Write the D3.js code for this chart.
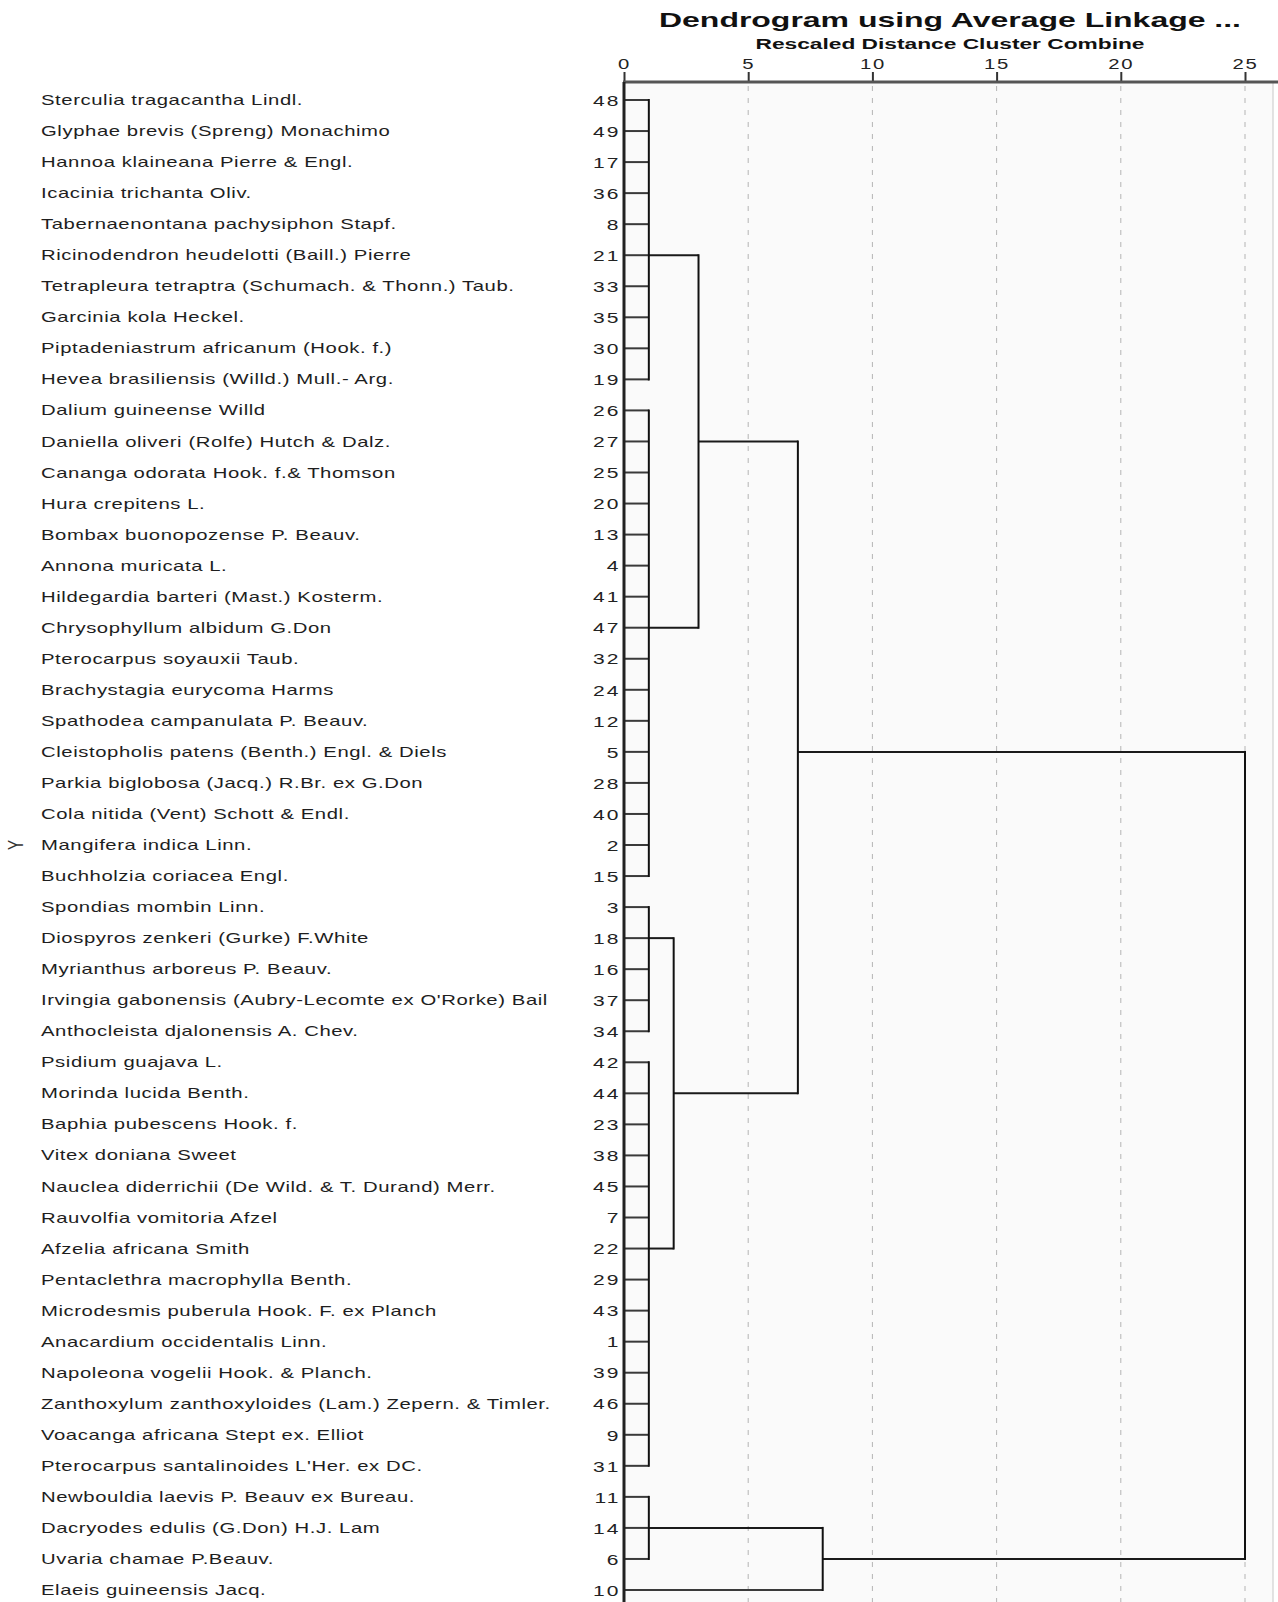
<!DOCTYPE html>
<html>
<head>
<meta charset="utf-8">
<script src="https://cdn.jsdelivr.net/npm/d3@7/dist/d3.min.js"></script>
<style>
  html, body { margin: 0; padding: 0; background: #ffffff; }
  svg { display: block; }
  text { font-family: "Liberation Sans", Arial, sans-serif; }
</style>
</head>
<body>
<svg id="chart" width="1278" height="1602"></svg>
<script>
// ---------------- DATA ----------------
const titleText = "Dendrogram using Average Linkage ...";
const subtitleText = "Rescaled Distance Cluster Combine";
const yAxisLabel = "Y";

const tickValues = [0, 5, 10, 15, 20, 25];

const caseIds = [48, 49, 17, 36, 8, 21, 33, 35, 30, 19, 26, 27, 25, 20, 13, 4, 41, 47, 32, 24,
  12, 5, 28, 40, 2, 15, 3, 18, 16, 37, 34, 42, 44, 23, 38, 45, 7, 22, 29, 43, 1, 39, 46, 9, 31,
  11, 14, 6, 10];

const speciesNames = [
  "Sterculia tragacantha Lindl.",
  "Glyphae brevis (Spreng) Monachimo",
  "Hannoa klaineana Pierre & Engl.",
  "Icacinia trichanta Oliv.",
  "Tabernaenontana pachysiphon Stapf.",
  "Ricinodendron heudelotti (Baill.) Pierre",
  "Tetrapleura tetraptra (Schumach. & Thonn.) Taub.",
  "Garcinia kola Heckel.",
  "Piptadeniastrum africanum (Hook. f.)",
  "Hevea brasiliensis (Willd.) Mull.- Arg.",
  "Dalium guineense Willd",
  "Daniella oliveri (Rolfe) Hutch & Dalz.",
  "Cananga odorata Hook. f.& Thomson",
  "Hura crepitens L.",
  "Bombax buonopozense P. Beauv.",
  "Annona muricata L.",
  "Hildegardia barteri (Mast.) Kosterm.",
  "Chrysophyllum albidum G.Don",
  "Pterocarpus soyauxii Taub.",
  "Brachystagia eurycoma Harms",
  "Spathodea campanulata P. Beauv.",
  "Cleistopholis patens (Benth.) Engl. & Diels",
  "Parkia biglobosa (Jacq.) R.Br. ex G.Don",
  "Cola nitida (Vent) Schott & Endl.",
  "Mangifera indica Linn.",
  "Buchholzia  coriacea Engl.",
  "Spondias mombin Linn.",
  "Diospyros zenkeri (Gurke) F.White",
  "Myrianthus arboreus P. Beauv.",
  "Irvingia gabonensis (Aubry-Lecomte ex O'Rorke) Bail",
  "Anthocleista djalonensis A. Chev.",
  "Psidium guajava L.",
  "Morinda lucida Benth.",
  "Baphia pubescens Hook. f.",
  "Vitex doniana Sweet",
  "Nauclea diderrichii (De Wild. & T. Durand) Merr.",
  "Rauvolfia vomitoria Afzel",
  "Afzelia africana Smith",
  "Pentaclethra macrophylla Benth.",
  "Microdesmis puberula Hook. F. ex Planch",
  "Anacardium occidentalis Linn.",
  "Napoleona vogelii Hook. & Planch.",
  "Zanthoxylum zanthoxyloides (Lam.) Zepern. & Timler.",
  "Voacanga africana Stept ex. Elliot",
  "Pterocarpus santalinoides L'Her. ex DC.",
  "Newbouldia laevis P. Beauv ex Bureau.",
  "Dacryodes edulis (G.Don) H.J. Lam",
  "Uvaria chamae P.Beauv.",
  "Elaeis guineensis Jacq."
];

// merges: members are case ids (numbers) or earlier merge ids (strings);
// distance = rescaled combine distance; joinCase = row where the branch leaves the cluster
const merges = [
  { id: "c1", members: [48, 49, 17, 36, 8, 21, 33, 35, 30, 19], distance: 1, joinCase: 21 },
  { id: "c2", members: [26, 27, 25, 20, 13, 4, 41, 47, 32, 24, 12, 5, 28, 40, 2, 15], distance: 1, joinCase: 47 },
  { id: "c3", members: [3, 18, 16, 37, 34], distance: 1, joinCase: 18 },
  { id: "c4", members: [42, 44, 23, 38, 45, 7, 22, 29, 43, 1, 39, 46, 9, 31], distance: 1, joinCase: 22 },
  { id: "c5", members: [11, 14, 6], distance: 1, joinCase: 14 },
  { id: "c6", members: ["c1", "c2"], distance: 3, joinCase: 27 },
  { id: "c7", members: ["c3", "c4"], distance: 2, joinCase: 44 },
  { id: "c8", members: ["c6", "c7"], distance: 7, joinCase: 5 },
  { id: "c9", members: ["c5", 10], distance: 8, joinCase: 6 },
  { id: "c10", members: ["c8", "c9"], distance: 25, joinCase: null }
];

// ---------------- LAYOUT ----------------
const W = 1278, H = 1602;
const axisY = 82;
const plotRight = 1273;
const SX = 1.45; // horizontal stretch of the original raster text

const svg = d3.select("#chart");

const x = d3.scaleLinear().domain([0, 25]).range([624, 1245]);
const y = d3.scalePoint().domain(caseIds).range([100, 1590]);

// plot background
svg.append("rect")
  .attr("x", x(0)).attr("y", axisY)
  .attr("width", plotRight - x(0)).attr("height", H - axisY)
  .attr("fill", "#fafafa");
svg.append("line")
  .attr("x1", plotRight).attr("x2", plotRight)
  .attr("y1", axisY).attr("y2", H)
  .attr("stroke", "#c8c8c8").attr("stroke-width", 1);

// dashed grid
svg.append("g").selectAll("line")
  .data(tickValues.filter(d => d > 0))
  .join("line")
  .attr("x1", d => x(d)).attr("x2", d => x(d))
  .attr("y1", axisY + 4).attr("y2", H)
  .attr("stroke", "#b4b4b4").attr("stroke-width", 1)
  .attr("stroke-dasharray", "5,7");

// title
svg.append("text")
  .attr("x", 950).attr("y", 27)
  .attr("text-anchor", "middle")
  .attr("font-size", 21).attr("font-weight", "bold")
  .attr("fill", "#111")
  .attr("textLength", 582).attr("lengthAdjust", "spacingAndGlyphs")
  .text(titleText);

svg.append("text")
  .attr("x", 950).attr("y", 49)
  .attr("text-anchor", "middle")
  .attr("font-size", 14).attr("font-weight", "bold")
  .attr("fill", "#111")
  .attr("textLength", 389).attr("lengthAdjust", "spacingAndGlyphs")
  .text(subtitleText);

// top axis
const gx = svg.append("g")
  .attr("transform", `translate(0,${axisY})`)
  .call(d3.axisTop(x).tickValues(tickValues).tickSize(10).tickPadding(3).tickSizeOuter(0));
gx.select(".domain").remove();
gx.selectAll(".tick line").attr("stroke", "#333").attr("stroke-width", 2);
gx.selectAll(".tick text")
  .attr("font-size", 14).attr("fill", "#222")
  .attr("letter-spacing", 1.2)
  .attr("font-family", "Liberation Sans, Arial, sans-serif")
  .attr("transform", `scale(${SX},1)`);
svg.append("line")
  .attr("x1", x(0) - 1).attr("x2", W)
  .attr("y1", axisY).attr("y2", axisY)
  .attr("stroke", "#555").attr("stroke-width", 3);

// left axis (case numbers)
const gy = svg.append("g")
  .attr("transform", `translate(${x(0)},0)`)
  .call(d3.axisLeft(y).tickSize(0).tickPadding(2.5));
gy.select(".domain").remove();
gy.selectAll(".tick text")
  .attr("font-size", 14.5).attr("fill", "#222")
  .attr("letter-spacing", 1.4)
  .attr("font-family", "Liberation Sans, Arial, sans-serif")
  .attr("dy", "0.36em")
  .attr("transform", `scale(${SX},1)`);

// species names
svg.append("g").selectAll("text")
  .data(caseIds)
  .join("text")
  .attr("transform", (d) => `translate(41,${y(d)}) scale(${SX},1)`)
  .attr("dy", "0.36em")
  .attr("font-size", 14)
  .attr("letter-spacing", 0.4)
  .attr("fill", "#1e1e1e")
  .text((d, i) => speciesNames[i]);

// y axis title
svg.append("text")
  .attr("transform", `translate(23,${y(2)}) scale(${SX},1) rotate(-90)`)
  .attr("text-anchor", "middle")
  .attr("font-size", 15)
  .attr("fill", "#333")
  .text(yAxisLabel);

// ---------------- DENDROGRAM ----------------
const byId = new Map(merges.map(m => [m.id, m]));
const childY = c => typeof c === "number" ? y(c) : y(byId.get(c).joinCase);
const childX = c => typeof c === "number" ? x(0) : x(byId.get(c).distance);

const tree = svg.append("g").attr("fill", "none");

// horizontal branches
const hSegs = [];
merges.forEach(m => {
  m.members.forEach(c => {
    hSegs.push({ x1: childX(c), x2: x(m.distance), y: childY(c), leaf: typeof c === "number" });
  });
});
tree.selectAll("line.h")
  .data(hSegs)
  .join("line")
  .attr("class", "h")
  .attr("x1", d => d.x1).attr("x2", d => d.x2)
  .attr("y1", d => d.y).attr("y2", d => d.y)
  .attr("stroke", d => d.leaf ? "#3a3a3a" : "#1a1a1a")
  .attr("stroke-width", 2);

// vertical connectors
tree.selectAll("line.v")
  .data(merges)
  .join("line")
  .attr("class", "v")
  .attr("x1", d => x(d.distance)).attr("x2", d => x(d.distance))
  .attr("y1", d => d3.min(d.members, childY) - 1)
  .attr("y2", d => d3.max(d.members, childY) + 1)
  .attr("stroke", "#111")
  .attr("stroke-width", 2);

// left baseline of the dendrogram
svg.append("line")
  .attr("x1", x(0)).attr("x2", x(0))
  .attr("y1", axisY).attr("y2", H)
  .attr("stroke", "#222").attr("stroke-width", 3);
</script>
</body>
</html>
